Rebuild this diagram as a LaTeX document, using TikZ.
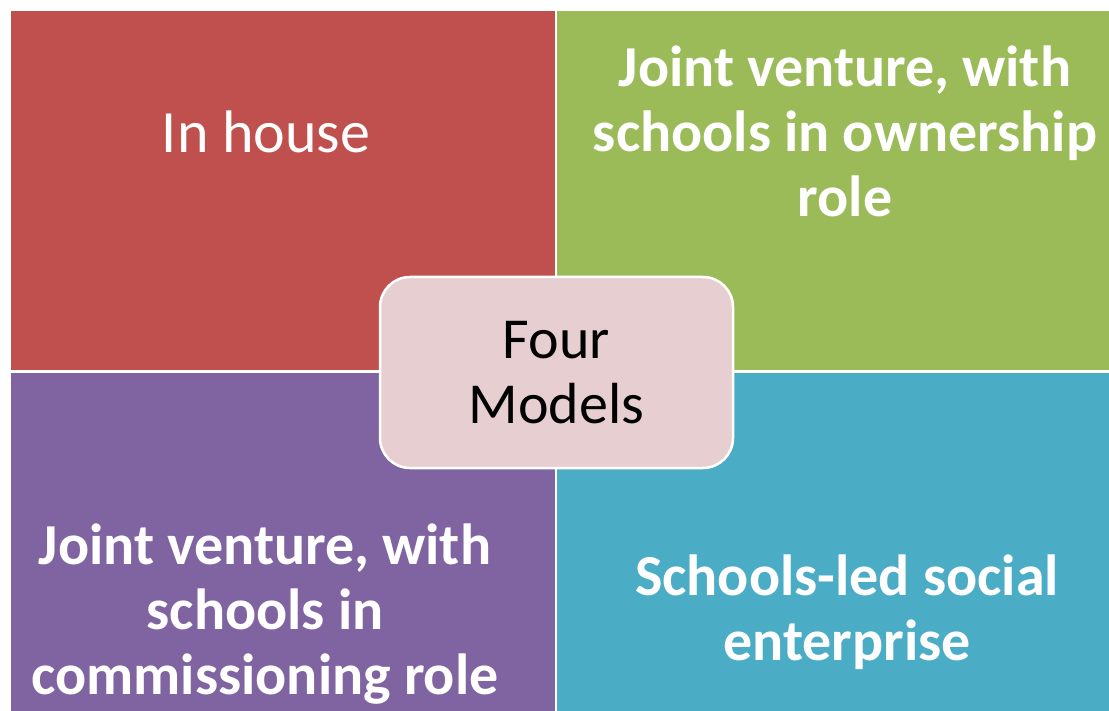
\documentclass[tikz,border=0pt]{standalone}
\usepackage{fontspec}
\setmainfont{Carlito}
\definecolor{qred}{RGB}{192,80,77}
\definecolor{qgreen}{RGB}{155,187,89}
\definecolor{qpurple}{RGB}{128,100,162}
\definecolor{qblue}{RGB}{75,172,198}
\definecolor{hubpink}{RGB}{231,207,209}
\begin{document}
\begin{tikzpicture}[line cap=round,line join=round,x=1pt,y=-1pt,
  qtext/.style={text=white,align=center,font=\fontsize{58}{65}\selectfont\bfseries},
  hub/.style={draw=white,line width=2.5pt,fill=hubpink,rounded corners=30pt,
    minimum width=353pt,minimum height=191pt,align=center,
    font=\fontsize{58}{65}\selectfont}]
\useasboundingbox (0,0) rectangle (1109,711);
% the four quadrants
\fill [qred] (11,11) rectangle (555,370);
\fill [qgreen] (557,11) rectangle (1109,370);
\fill [qpurple] (11,373) rectangle (555,711);
\fill [qblue] (557,373) rectangle (1109,711);
\node [qtext,font=\fontsize{60}{65}\selectfont] (inhouse) at (266,132) {In house};
\node [qtext] (ownership) at (845,131) {Joint venture, with\\schools in ownership\\role};
\node [qtext] (commission) at (265,614) {Joint venture, with\\schools in\\commissioning role};
\node [qtext] (social) at (847,612) {Schools-led social\\enterprise};
% centre
\node [hub] (four) at (556.5,372.5) {Four\\Models};
\end{tikzpicture}
\end{document}
